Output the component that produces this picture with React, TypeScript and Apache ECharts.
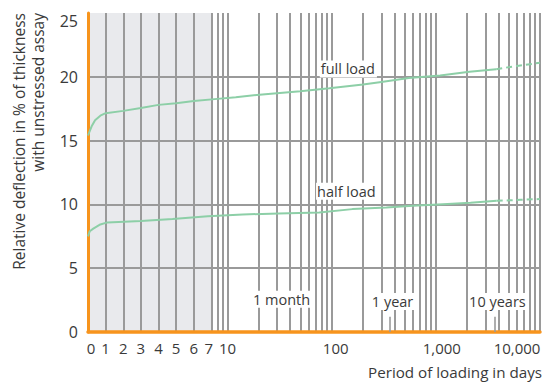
import React, { useEffect, useRef } from 'react';
import * as echarts from 'echarts';

// x tick labels (days) and their texts
const xTickDays = [0, 1, 2, 3, 4, 5, 6, 7, 10, 100, 1000, 10000];
const xTickLabels = ['0', '1', '2', '3', '4', '5', '6', '7', '10', '100', '1,000', '10,000'];
// vertical grid lines (days)
const gridDays = [1, 2, 3, 4, 5, 6, 7, 8, 9, 10, 20, 30, 40, 50, 60, 70, 80, 90, 100, 200, 300, 400, 500, 600, 700, 800, 900, 1000, 2000, 3000, 4000, 5000, 6000, 7000, 8000, 9000, 10000];
const yTickValues = [0, 5, 10, 15, 20, 25];
const yGridValues = [5, 10, 15, 20];

// full load
const fullDays = [0, 0.2, 0.4, 0.7, 1, 2, 3, 4, 5, 6, 8, 12, 23, 50, 95, 200, 300, 550, 1100, 2100, 3800];
const fullVals = [15.4, 16.1, 16.6, 16.95, 17.15, 17.33, 17.55, 17.8, 17.93, 18.1, 18.27, 18.4, 18.64, 18.87, 19.1, 19.4, 19.6, 19.9, 20.1, 20.4, 20.6];
const fullDashDays = [3800, 6000, 10000];
const fullDashVals = [20.6, 20.85, 21.1];

// half load
const halfDays = [0, 0.1, 0.3, 0.7, 1.1, 3, 4.8, 6.8, 14, 31, 76, 158, 335, 600, 1170, 2150, 3840];
const halfVals = [7.5, 7.9, 8.1, 8.43, 8.59, 8.69, 8.85, 9.08, 9.21, 9.29, 9.37, 9.63, 9.76, 9.89, 10.02, 10.12, 10.28];
const halfDashDays = [3840, 6500, 10000];
const halfDashVals = [10.28, 10.36, 10.42];

// shaded first week, marker ticks
const shadeDays = [0, 7];
const markerDays = [365, 3650];
const markerHeight = 1.2;

// annotation texts anchored at (day, value) = left-middle of text
const annotTexts = ['full load', 'half load', '1 month', '1 year', '10 years'];
const annotDays = [76, 70, 17, 235, 2018];
const annotVals = [20.62, 11.04, 2.56, 2.4, 2.4];

const yAxisTitle = 'Relative deflection in % of thickness\nwith unstressed assay';
const xAxisTitle = 'Period of loading in days';

const LIN_END = 7;
const DECADE_UNITS = 104 / 17.6;
const t = (d: number) => (d <= LIN_END ? d : LIN_END + Math.log10(d / LIN_END) * DECADE_UNITS);
const X_MAX = t(10000);

const FONT = 'Open Sans';
const TXT = '#3a3a3a';
const GRID = '#9a9a9a';
const ORANGE = '#f7941d';
const GREEN = '#8dcfa7';

const labelRich: Record<string, string> = {
  '0': 'l6',
  '7': 'r5',
  '100': 'l8',
  '1,000': 'l12',
  '10,000': 'r46',
};

export default function App() {
  const ref = useRef<HTMLDivElement>(null);
  useEffect(() => {
    document.body.style.margin = '0';
    const chart = echarts.init(ref.current!, undefined, { renderer: 'svg' });
    const xTickPos = xTickDays.map(t);
    const zip = (ds: number[], vs: number[]) => ds.map((d, i) => [t(d), vs[i]]);
    const rs = (p: number[]) => ({ padding: p, fontSize: 15, color: TXT, fontFamily: FONT });
    chart.setOption({
      animation: false,
      textStyle: { fontFamily: FONT },
      grid: { left: 88, right: 4, top: 13, bottom: 51 },
      graphic: [
        {
          type: 'text',
          x: 28.5,
          y: 13,
          rotation: Math.PI / 2,
          style: {
            text: yAxisTitle,
            align: 'right',
            verticalAlign: 'middle',
            fontSize: 15.5,
            lineHeight: 19,
            fontFamily: FONT,
            fill: TXT,
          },
        },
      ],
      xAxis: [
        {
          type: 'value',
          min: 0,
          max: X_MAX,
          axisLine: { show: true, onZero: false, lineStyle: { color: ORANGE, width: 3.5 } },
          axisTick: { show: false, customValues: gridDays.map(t) },
          axisLabel: {
            customValues: xTickPos,
            fontSize: 15,
            color: TXT,
            margin: 8,
            fontFamily: FONT,
            formatter: (v: number) => {
              const i = xTickPos.findIndex((p) => Math.abs(p - v) < 1e-6);
              const s = i >= 0 ? xTickLabels[i] : '';
              const r = labelRich[s];
              return r ? `{${r}|${s}}` : s;
            },
            rich: {
              l6: rs([0, 0, 0, 6]),
              r5: rs([0, 5, 0, 0]),
              l8: rs([0, 0, 0, 8]),
              l12: rs([0, 0, 0, 12]),
              r46: rs([0, 46, 0, 0]),
            },
          },
          splitLine: { show: true, lineStyle: { color: GRID, width: 2 } },
          name: xAxisTitle,
          nameLocation: 'end',
          nameGap: 2,
          nameTextStyle: { align: 'right', verticalAlign: 'top', padding: [32, 0, 0, 0], fontSize: 15.2, color: TXT, fontFamily: FONT },
          z: 1,
        },
        {
          type: 'value',
          min: 0,
          max: X_MAX,
          axisLine: { show: false },
          axisTick: { show: false, customValues: [...shadeDays.map(t), X_MAX] },
          axisLabel: { show: false },
          splitLine: { show: false },
          splitArea: { show: true, areaStyle: { color: ['#e9eaed', 'rgba(255,255,255,0)'] } },
          z: -1,
        },
      ],
      yAxis: {
        type: 'value',
        min: 0,
        max: 25,
        interval: 5,
        axisLine: { show: true, lineStyle: { color: ORANGE, width: 3 } },
        axisTick: { show: false, customValues: yGridValues },
        axisLabel: {
          customValues: yTickValues,
          fontSize: 16,
          color: TXT,
          margin: 10,
          fontFamily: FONT,
          formatter: (v: number) => (v === 25 ? `{top|${v}}` : `${v}`),
          rich: { top: { padding: [16, 0, 0, 0], fontSize: 16, color: TXT, fontFamily: FONT } },
        },
        splitLine: { show: true, lineStyle: { color: GRID, width: 2 } },
        z: 1,
      },
      series: [
        {
          type: 'line',
          name: 'full load',
          data: zip(fullDays, fullVals),
          symbol: 'none',
          lineStyle: { color: GREEN, width: 2 },
          z: 3,
          markPoint: {
            symbol: 'rect',
            symbolSize: 1,
            itemStyle: { color: 'rgba(0,0,0,0)' },
            label: {
              show: true,
              position: 'right',
              distance: 0,
              formatter: '{b}',
              color: TXT,
              fontSize: 14.5,
              fontFamily: FONT,
              backgroundColor: '#fff',
              padding: [1, 2, 1, 1],
            },
            data: annotTexts.map((s, i) => ({ name: s, coord: [t(annotDays[i]), annotVals[i]] })),
          },
          markLine: {
            silent: true,
            symbol: ['none', 'none'],
            label: { show: false },
            lineStyle: { color: GRID, width: 1.6, type: 'solid' },
            data: markerDays.map((d) => [{ coord: [t(d), 0] }, { coord: [t(d), markerHeight] }]),
          },
        },
        {
          type: 'line',
          data: zip(fullDashDays, fullDashVals),
          symbol: 'none',
          lineStyle: { color: GREEN, width: 2, type: [6, 4] },
          z: 3,
        },
        {
          type: 'line',
          name: 'half load',
          data: zip(halfDays, halfVals),
          symbol: 'none',
          lineStyle: { color: GREEN, width: 2 },
          z: 3,
        },
        {
          type: 'line',
          data: zip(halfDashDays, halfDashVals),
          symbol: 'none',
          lineStyle: { color: GREEN, width: 2, type: [6, 4] },
          z: 3,
        },
      ],
    });
    return () => chart.dispose();
  }, []);
  return <div ref={ref} style={{ width: 545, height: 383 }} />;
}
